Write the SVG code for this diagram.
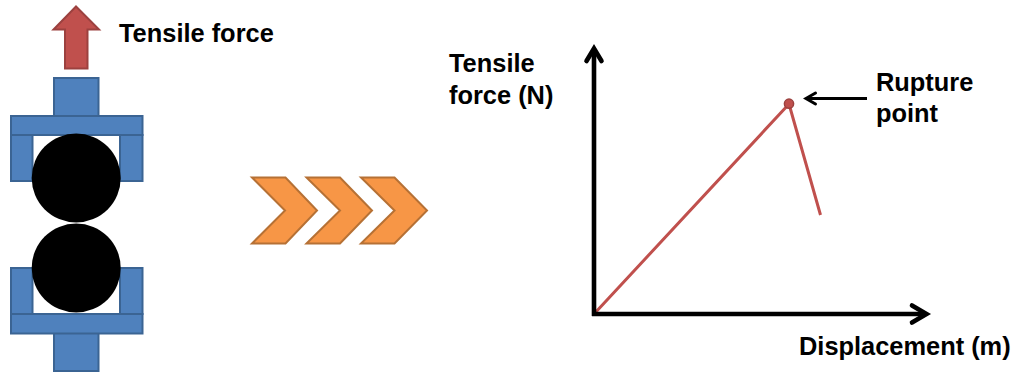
<svg xmlns="http://www.w3.org/2000/svg" width="1017" height="374" viewBox="0 0 1017 374">
<defs>
<style>
.b{fill:#4f81bd;stroke:#3b6493;stroke-width:2}
.c{fill:#000}
.o{fill:#f79646;stroke:#b67135;stroke-width:2;stroke-linejoin:miter}
.t{font-family:"Liberation Sans",Arial,sans-serif;font-weight:700;font-size:25.4px;fill:#000}
.k{fill:none;stroke:#000;stroke-width:4.6}
.h{fill:none;stroke:#000;stroke-width:4.6;stroke-linecap:round;stroke-linejoin:miter}
.r{fill:none;stroke:#c0504d;stroke-width:3}
</style>
</defs>
<rect width="1017" height="374" fill="#fff"/>
<g id="force-arrow"><path d="M65 68.500V29.500H53.500L76 6.500L99 29.500H87.500V68.500Z" fill="#c0504d" stroke="#9c413f" stroke-width="2"/></g>
<g id="top-clamp">
<rect class="b" x="54" y="78" width="44.500" height="38"/>
<rect class="b" x="11" y="135" width="21.500" height="46"/>
<rect class="b" x="120" y="135" width="22.500" height="46"/>
<rect class="b" x="11" y="116" width="131.500" height="19"/>
</g>
<g id="bottom-clamp">
<rect class="b" x="54" y="333" width="44.500" height="38"/>
<rect class="b" x="11" y="268" width="21.500" height="46"/>
<rect class="b" x="120" y="268" width="22.500" height="46"/>
<rect class="b" x="11" y="314" width="131.500" height="19.500"/>
</g>
<g id="roller-top"><circle class="c" cx="76.200" cy="178" r="44.500"/></g>
<g id="roller-bottom"><circle class="c" cx="76.200" cy="268" r="44.500"/></g>
<g id="chevrons">
<path class="o" d="M252 177.500H285.500L317 210.500L285.500 243.500H252L285 210.500Z"/>
<path class="o" d="M306.500 177.500H340L372 210.500L340 243.500H306.500L340 210.500Z"/>
<path class="o" d="M361 177.500H394.500L427 210.500L394.500 243.500H361L394.500 210.500Z"/>
</g>
<g id="connectors">
<path class="r" d="M594 314L789 104M789 104L820.500 215"/>
<path class="k" d="M594 316V50"/>
<path class="h" d="M586.500 61L594 48.500L601.500 61"/>
<path class="k" d="M592 314H926"/>
<path class="h" d="M912 305.500L926.500 314L912 322.500"/>
<path class="k" style="stroke-width:3" d="M867 98.500H806"/>
<path class="h" style="stroke-width:3" d="M815.500 93L806 98.500L815.500 104"/>
</g>
<g id="rupture-point"><circle cx="789" cy="103.700" r="4.600" fill="#c0504d" stroke="#9c413f" stroke-width="1.500"/></g>
<g id="labels">
<text class="t" x="119" y="42">Tensile force</text>
<text class="t" x="449" y="72">Tensile</text>
<text class="t" x="449" y="104">force (N)</text>
<text class="t" x="876" y="90.500">Rupture</text>
<text class="t" x="876" y="122">point</text>
<text class="t" x="799" y="354.500">Displacement (m)</text>
</g>
</svg>
